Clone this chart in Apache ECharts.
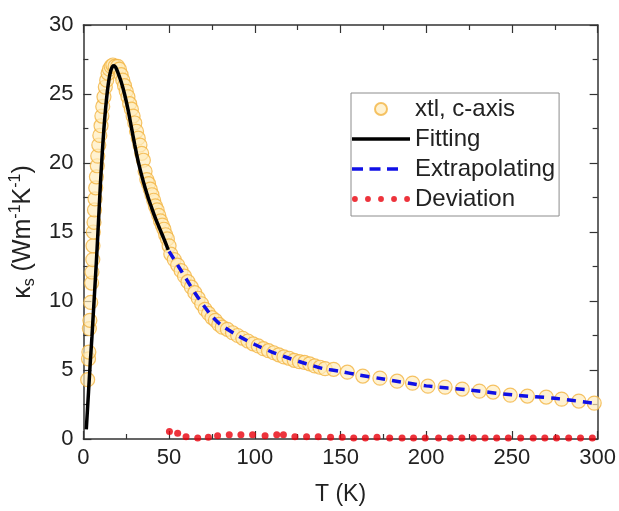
<!DOCTYPE html>
<html>
<head>
<meta charset="utf-8">
<script src="https://cdn.jsdelivr.net/npm/echarts@6/dist/echarts.min.js"></script>
<style>
html, body { margin: 0; padding: 0; background: #fff; }
#chart { width: 619px; height: 511px; }
</style>
</head>
<body>
<div id="chart"></div>
<script>
// measured data (xtl, c-axis)
var xtlT = [2.5, 3, 3.2, 3.5, 3.8, 4.3, 4.8, 5.0, 5.5, 5.6, 5.8, 6.2, 6.5, 6.8, 7.2, 7.6, 8.1, 8.4, 9.0, 9.6,
    10.3, 10.8, 11.3, 12.0, 12.8, 13.6, 14.4, 15.2, 16.2, 17.2, 18.5, 20, 21, 22, 23, 24, 25, 26, 27, 28,
    29, 30, 31, 32, 33, 34, 35, 36, 37, 38, 39, 40, 41, 42, 43, 44, 45, 46, 47, 48,
    49, 50, 51, 53, 55, 57, 59, 61, 63, 65, 67, 69, 71, 73, 75, 77, 79, 81, 84, 87,
    90, 93, 96, 99, 102, 105, 108, 111, 114, 117, 120, 123, 126, 129, 132, 135, 138, 141, 146, 154,
    163, 173, 183, 192, 201, 211, 221, 231, 239, 249, 259, 270, 279, 289, 298];
var xtlK = [4.3, 5.8, 6.3, 8.0, 8.6, 9.9, 11.3, 12.1, 13.0, 14.0, 15.0, 15.7, 16.6, 17.4, 18.2, 19.0, 19.8, 20.5, 21.3, 22.0,
    22.7, 23.4, 24.1, 24.8, 25.5, 26.0, 26.5, 26.8, 27.0, 27.1, 27.0, 27.0, 26.8, 26.4, 26.0, 25.6, 25.2, 24.8, 24.3, 23.9,
    23.4, 22.9, 22.3, 21.8, 21.3, 20.7, 20.2, 19.4, 18.8, 18.5, 18.1, 17.7, 17.3, 16.9, 16.6, 16.2, 15.8, 15.5, 15.2, 14.8,
    14.5, 14.0, 13.4, 13.0, 12.6, 12.2, 11.8, 11.4, 11.0, 10.6, 10.2, 9.8, 9.4, 9.1, 8.8, 8.6, 8.3, 8.1, 7.95, 7.7,
    7.5, 7.3, 7.1, 6.9, 6.75, 6.55, 6.4, 6.25, 6.1, 5.95, 5.85, 5.7, 5.6, 5.55, 5.45, 5.3, 5.2, 5.1, 5.05, 4.84,
    4.56, 4.41, 4.19, 4.05, 3.83, 3.76, 3.62, 3.47, 3.40, 3.18, 3.11, 3.04, 2.89, 2.75, 2.60];

// fitting curve
var fitT = [1.7, 3, 4, 5, 6, 7, 8, 9, 10, 11, 12, 13, 14, 15, 16, 17, 18, 19, 20, 22,
    24, 26, 28, 30, 32, 34, 36, 38, 40, 42, 44, 46, 48, 49.5];
var fitK = [0.7, 3.4, 5.5, 7.4, 9.5, 11.6, 13.8, 16.2, 18.6, 20.7, 22.5, 24.0, 25.2, 26.1, 26.7, 27.0, 27.05, 26.9, 26.6, 25.9,
    25.0, 23.9, 22.6, 21.3, 20.1, 19.1, 18.2, 17.4, 16.7, 16.0, 15.4, 14.8, 14.2, 13.7];

// extrapolation
var extT = [50, 55, 60, 65, 70, 75, 80, 90, 100, 110, 120, 130, 140, 150, 160, 175, 200, 225, 250, 275, 300];
var extK = [13.6, 12.6, 11.6, 10.6, 9.7, 8.9, 8.3, 7.5, 6.85, 6.3, 5.85, 5.45, 5.1, 4.9, 4.65, 4.35, 3.85, 3.55, 3.2, 2.95, 2.55];

// deviation
var devT = [50.2, 55.0, 59.9, 66.7, 72.9, 78.3, 85.1, 91.9, 98.7, 106.0, 112.8, 116.7, 123.4, 130.2, 137.0, 144.2, 151.0, 157.7, 164.5, 171.3,
    178.7, 185.9, 192.6, 199.4, 207.2, 214, 220.8, 227.5, 234.3, 241.1, 247.9, 255.1, 262.4, 269.2, 276, 283.1, 290, 296.9];
var devK = [0.55, 0.41, 0.17, 0.07, 0.12, 0.24, 0.31, 0.31, 0.31, 0.24, 0.31, 0.31, 0.17, 0.17, 0.17, 0.12, 0.12, 0.07, 0.07, 0.12,
    0.07, 0.07, 0.07, 0.07, 0.07, 0.07, 0.07, 0.07, 0.07, 0.07, 0.07, 0.07, 0.07, 0.07, 0.07, 0.07, 0.07, 0.07];

function pairs(xs, ys) {
    return xs.map(function (x, i) { return [x, ys[i]]; });
}

var font = "'Liberation Sans', Arial, sans-serif";
var axisColor = "#333";

function baseAxis(pos, min, max, interval, showLabel) {
    return {
        type: "value",
        position: pos,
        min: min,
        max: max,
        interval: interval,
        axisLine: { show: true, onZero: false, lineStyle: { color: axisColor, width: 1.5 } },
        axisTick: { show: true, inside: true, length: 8, lineStyle: { color: axisColor, width: 1.2 } },
        minorTick: { show: true, splitNumber: 2, length: 5, lineStyle: { color: axisColor, width: 1.2 } },
        splitLine: { show: false },
        axisLabel: {
            show: showLabel,
            color: "#222",
            fontSize: 22,
            fontFamily: font
        }
    };
}

var xBottom = baseAxis("bottom", 0, 300, 50, true);
xBottom.axisLabel.margin = 8;
xBottom.name = "T (K)";
xBottom.nameLocation = "middle";
xBottom.nameGap = 44;
xBottom.nameTextStyle = { fontSize: 23, color: "#222", fontFamily: font };
var xTop = baseAxis("top", 0, 300, 50, false);

var yLeft = baseAxis("left", 0, 30, 5, true);
yLeft.axisLabel.margin = 10;
yLeft.name = "{a|κ}{s|s}{a| (Wm}{p|-1}{a|K}{p|-1}{a|)}";
yLeft.nameLocation = "middle";
yLeft.nameGap = 39;
yLeft.nameTextStyle = {
    color: "#222",
    fontFamily: font,
    rich: {
        a: { fontSize: 25, lineHeight: 30, fontFamily: font, color: "#222", verticalAlign: "middle" },
        s: { fontSize: 16, lineHeight: 16, fontFamily: font, color: "#222", verticalAlign: "bottom" },
        p: { fontSize: 16, lineHeight: 16, fontFamily: font, color: "#222", verticalAlign: "top" }
    }
};
var yRight = baseAxis("right", 0, 30, 5, false);

var chart = echarts.init(document.getElementById("chart"));
chart.setOption({
    backgroundColor: "#fff",
    animation: false,
    grid: { left: 82, right: 21, top: 25, bottom: 71 },
    xAxis: [xBottom, xTop],
    yAxis: [yLeft, yRight],
    legend: {
        orient: "vertical",
        left: 351,
        top: 93,
        padding: [4, 4, 5, 1],
        itemWidth: 58,
        itemHeight: 12,
        itemGap: 6,
        borderColor: "#8c8c8c",
        borderWidth: 1,
        backgroundColor: "#fff",
        textStyle: { fontSize: 24, lineHeight: 24, color: "#222", fontFamily: font },
        data: [
            { name: "xtl, c-axis" },
            { name: "Fitting", icon: "path://M0,0H58V3.5H0Z" },
            {
                name: "Extrapolating",
                icon: "path://M0,0h11v3.5h-11zM17.5,0h11v3.5h-11zM35,0h11v3.5h-11zM58,1.75"
            },
            {
                name: "Deviation",
                icon: "path://M0.2,3a2.8,2.8 0 1,0 5.6,0a2.8,2.8 0 1,0 -5.6,0z" +
                    "M12.7,3a2.8,2.8 0 1,0 5.6,0a2.8,2.8 0 1,0 -5.6,0z" +
                    "M25.2,3a2.8,2.8 0 1,0 5.6,0a2.8,2.8 0 1,0 -5.6,0z" +
                    "M37.7,3a2.8,2.8 0 1,0 5.6,0a2.8,2.8 0 1,0 -5.6,0z" +
                    "M50.2,3a2.8,2.8 0 1,0 5.6,0a2.8,2.8 0 1,0 -5.6,0z"
            }
        ]
    },
    series: [
        {
            type: "scatter",
            name: "xtl, c-axis",
            symbol: "circle",
            symbolSize: 14,
            itemStyle: {
                color: "rgba(255, 236, 188, 0.85)",
                borderColor: "#F2B441",
                borderWidth: 1.2
            },
            data: pairs(xtlT, xtlK),
            z: 2
        },
        {
            type: "line",
            name: "Fitting",
            smooth: 0.3,
            symbol: "none",
            lineStyle: { color: "#000", width: 3.5 },
            itemStyle: { color: "#000" },
            data: pairs(fitT, fitK),
            z: 3
        },
        {
            type: "line",
            name: "Extrapolating",
            smooth: 0.3,
            symbol: "none",
            lineStyle: { color: "#1010E6", width: 3.5, type: [9, 7] },
            itemStyle: { color: "#1010E6" },
            data: pairs(extT, extK),
            z: 3
        },
        {
            type: "scatter",
            name: "Deviation",
            symbol: "circle",
            symbolSize: 7,
            itemStyle: { color: "#E8000B" },
            data: pairs(devT, devK),
            z: 4
        }
    ]
});
</script>
</body>
</html>
